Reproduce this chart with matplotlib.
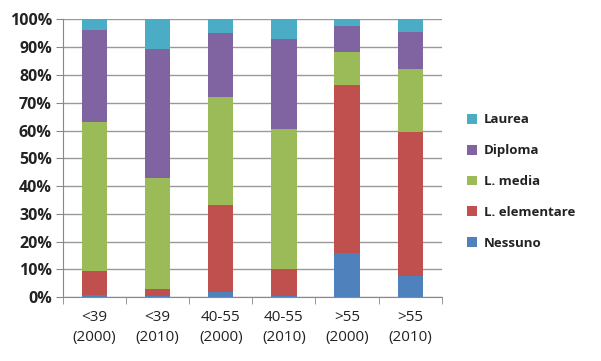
import matplotlib
matplotlib.use("Agg")
import matplotlib.pyplot as plt
import numpy as np

categories = ["<39\n(2000)", "<39\n(2010)", "40-55\n(2000)", "40-55\n(2010)", ">55\n(2000)", ">55\n(2010)"]
series_names = ["Nessuno", "L. elementare", "L. media", "Diploma", "Laurea"]
nessuno = [1.0, 0.3, 2.0, 0.5, 15.8, 7.8]
elementare = [8.5, 2.7, 31.2, 9.7, 60.6, 51.8]
media = [53.5, 39.8, 39.0, 50.2, 11.9, 22.5]
diploma = [33.0, 46.6, 23.0, 32.5, 9.3, 13.4]
laurea = [4.0, 10.6, 4.8, 7.1, 2.4, 4.5]
colors = ["#4F81BD", "#C0504D", "#9BBB59", "#8064A2", "#4BACC6"]

plt.rcParams['font.family'] = ['Open Sans', 'DejaVu Sans']

fig = plt.figure(figsize=(6.01, 3.61), dpi=100)
ax = fig.add_axes([0.1048, 0.1765, 0.6302, 0.77])

x = np.arange(len(categories))
bottom = np.zeros(len(categories))
handles = []
for name, vals, c in zip(series_names, [nessuno, elementare, media, diploma, laurea], colors):
    h = ax.bar(x, vals, 0.4, bottom=bottom, color=c, label=name, zorder=3)
    handles.append(h)
    bottom += np.array(vals)

ax.set_xlim(-0.5, len(categories) - 0.5)
ax.set_ylim(0, 100)
ax.set_yticks(np.arange(0, 101, 10))
ax.set_yticklabels([f"{v}%" for v in range(0, 101, 10)], fontsize=11.5, color="#222222", fontweight="bold")
ax.set_xticks(x)
ax.set_xticklabels(categories, fontsize=11, color="#222222", linespacing=1.45)
ax.set_xticks(np.arange(-0.5, len(categories), 1), minor=True)
ax.tick_params(axis='x', which='major', length=0, pad=9)
ax.tick_params(axis='x', which='minor', length=5, color="#888888")
ax.tick_params(axis='y', length=5, color="#888888", pad=3)
ax.grid(axis='y', color="#999999", linewidth=1, zorder=0)
for s in ["top", "right"]:
    ax.spines[s].set_visible(False)
for s in ["left", "bottom"]:
    ax.spines[s].set_color("#888888")

leg = fig.legend(handles[::-1], series_names[::-1], loc="center left",
           bbox_to_anchor=(0.758, 0.497), frameon=False,
           prop={'size': 9.5, 'weight': 'bold'},
           handlelength=0.75, handleheight=0.75, handletextpad=0.5,
           labelspacing=1.35, labelcolor="#222222")

fig.savefig("out.png", dpi=100)
